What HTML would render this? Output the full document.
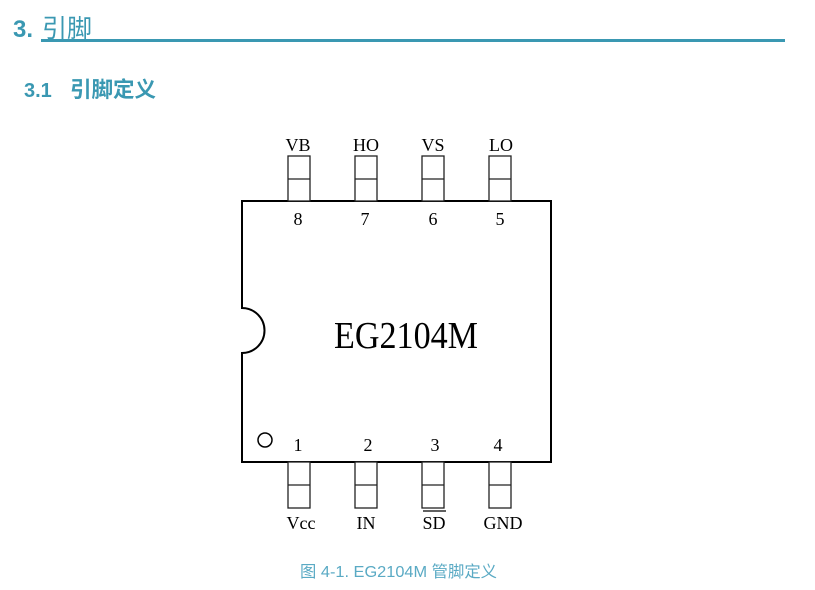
<!DOCTYPE html>
<html><head><meta charset="utf-8"><style>
body{margin:0;width:815px;height:585px;background:#fff;overflow:hidden;}
</style></head><body>
<svg width="815" height="585" xmlns="http://www.w3.org/2000/svg">
<g fill="#3a98b2" font-family="Liberation Sans, Noto Sans CJK SC, sans-serif" font-weight="bold">
<text x="13" y="37" font-size="24">3.</text>
<text x="42" y="37" font-size="25" font-weight="normal">引脚</text>
<text x="24" y="97" font-size="20">3.1</text>
<text x="70" y="97" font-size="21.5">引脚定义</text>
</g>
<rect x="41" y="39" width="744" height="3" fill="#3a98b2"/>
<g stroke="#000" stroke-width="2" fill="none">
<path d="M242,201 H551 V462 H242 V353 A22.5,22.5 0 0 0 242,308 Z"/>
<circle cx="265" cy="440" r="7" stroke-width="1.5"/>
</g>
<g stroke="#222" stroke-width="1.3" fill="#fff">
<rect x="288" y="156" width="22" height="45"/><line x1="288" y1="179" x2="310" y2="179"/>
<rect x="355" y="156" width="22" height="45"/><line x1="355" y1="179" x2="377" y2="179"/>
<rect x="422" y="156" width="22" height="45"/><line x1="422" y1="179" x2="444" y2="179"/>
<rect x="489" y="156" width="22" height="45"/><line x1="489" y1="179" x2="511" y2="179"/>
<rect x="288" y="462" width="22" height="46"/><line x1="288" y1="485" x2="310" y2="485"/>
<rect x="355" y="462" width="22" height="46"/><line x1="355" y1="485" x2="377" y2="485"/>
<rect x="422" y="462" width="22" height="46"/><line x1="422" y1="485" x2="444" y2="485"/>
<rect x="489" y="462" width="22" height="46"/><line x1="489" y1="485" x2="511" y2="485"/>
</g>
<g font-family="Liberation Serif, serif" font-size="18" fill="#000" text-anchor="middle">
<text x="298" y="151">VB</text><text x="366" y="151">HO</text><text x="433" y="151">VS</text><text x="501" y="151">LO</text>
<text x="298" y="225">8</text><text x="365" y="225">7</text><text x="433" y="225">6</text><text x="500" y="225">5</text>
<text x="298" y="451">1</text><text x="368" y="451">2</text><text x="435" y="451">3</text><text x="498" y="451">4</text>
<text x="301" y="529">Vcc</text><text x="366" y="529">IN</text><text x="434" y="529">SD</text><text x="503" y="529">GND</text>
</g>
<line x1="423" y1="511" x2="446" y2="511" stroke="#000" stroke-width="1.2"/>
<text x="334" y="348" font-family="Liberation Serif, serif" font-size="38" textLength="144" lengthAdjust="spacingAndGlyphs">EG2104M</text>
<text x="300" y="577" font-family="Liberation Sans, Noto Sans CJK SC, sans-serif" font-size="16" fill="#5aaac4" textLength="197" lengthAdjust="spacingAndGlyphs">图 4-1. EG2104M 管脚定义</text>
</svg>
</body></html>
